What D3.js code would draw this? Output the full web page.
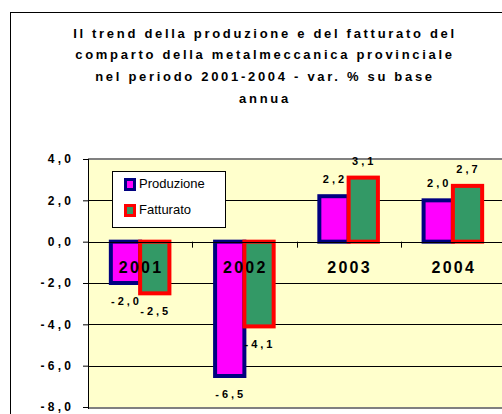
<!DOCTYPE html>
<html>
<head>
<meta charset="utf-8">
<script src="https://cdn.jsdelivr.net/npm/d3@7"></script>
<style>
  body { margin: 0; background: #fff; }
  svg text { font-family: Arial, "Liberation Sans", sans-serif; }
</style>
</head>
<body>
<div id="graph"></div>
<script>
// data
var years = ["2001", "2002", "2003", "2004"];
var series = ["Produzione", "Fatturato"];
var produzione = [-2.0, -6.5, 2.2, 2.0];
var fatturato = [-2.5, -4.1, 3.1, 2.7];
var yTicks = [4, 2, 0, -2, -4, -6, -8];
var titleLines = [
  "Il trend della produzione e del fatturato del",
  "comparto della metalmeccanica provinciale",
  "nel periodo 2001-2004 - var. % su base",
  "annua"
];

var fills = { "Produzione": "#ff00ff", "Fatturato": "#339966" };
var strokes = { "Produzione": "#000080", "Fatturato": "#ff0000" };

var width = 502, height = 414;
var plot = { left: 88, top: 159, right: 505, bottom: 407 };

// italian style number: 2,0 with a plain hyphen
function fmt(v) {
  return d3.format(".1f")(v).replace(".", ",").replace("\u2212", "-");
}

var svg = d3.select("#graph")
  .append("svg")
    .attr("width", width)
    .attr("height", height);

// outer chart frame
svg.append("rect")
  .attr("x", 10.5).attr("y", 12.5)
  .attr("width", 520).attr("height", 420)
  .style("fill", "#fff")
  .style("stroke", "#000")
  .style("stroke-width", 1);

// title
var title = svg.append("text")
  .attr("text-anchor", "middle")
  .style("font-size", "13px")
  .style("font-weight", "bold")
  .style("letter-spacing", "2.7px");
titleLines.forEach(function(t, i) {
  title.append("tspan")
    .attr("x", 265)
    .attr("y", 37.5 + i * 21.7)
    .text(t);
});

// scales
var x0 = d3.scaleBand()
  .domain(years)
  .range([plot.left, plot.right])
  .paddingInner(0).paddingOuter(0);

var x1 = d3.scaleBand()
  .domain(series)
  .range([0, x0.bandwidth()])
  .paddingInner(0).paddingOuter(0.78);

var y = d3.scaleLinear()
  .domain([-8, 4])
  .range([plot.bottom, plot.top]);

// plot area
svg.append("rect")
  .attr("x", plot.left).attr("y", plot.top)
  .attr("width", plot.right - plot.left).attr("height", plot.bottom - plot.top)
  .style("fill", "#ffffcc");

svg.append("line")
  .attr("x1", plot.left).attr("x2", plot.right)
  .attr("y1", plot.top).attr("y2", plot.top)
  .style("stroke", "#808080").style("stroke-width", 2);
svg.append("line")
  .attr("x1", plot.left).attr("x2", plot.right)
  .attr("y1", plot.bottom + 1).attr("y2", plot.bottom + 1)
  .style("stroke", "#808080").style("stroke-width", 2);

// gridlines
svg.append("g")
  .selectAll("line")
  .data(yTicks.filter(function(d) { return d != 4 && d != -8 && d != 0; }))
  .enter()
  .append("line")
    .attr("x1", plot.left).attr("x2", plot.right)
    .attr("y1", function(d) { return Math.round(y(d)) + 0.5; })
    .attr("y2", function(d) { return Math.round(y(d)) + 0.5; })
    .style("stroke", "#000").style("stroke-width", 1);

// y axis
var yAxis = svg.append("g")
  .attr("transform", "translate(" + plot.left + ",0)")
  .call(d3.axisLeft(y)
    .tickValues(yTicks)
    .tickSize(5)
    .tickPadding(12)
    .tickFormat(fmt));
yAxis.select(".domain").remove();
yAxis.selectAll(".tick line").style("stroke", "#000");
yAxis.selectAll("text")
  .style("font-size", "12px")
  .style("font-weight", "bold")
  .style("letter-spacing", "3.3px")
  .style("fill", "#000")
  .attr("dx", "3.3px");
svg.append("line")
  .attr("x1", plot.left + 0.5).attr("x2", plot.left + 0.5)
  .attr("y1", plot.top).attr("y2", plot.bottom + 2)
  .style("stroke", "#000").style("stroke-width", 1);

// bars
var rows = years.map(function(yr, i) {
  return { year: yr, values: [
    { key: "Produzione", value: produzione[i] },
    { key: "Fatturato", value: fatturato[i] }
  ] };
});

var groups = svg.append("g")
  .selectAll("g")
  .data(rows)
  .enter()
  .append("g")
    .attr("transform", function(d) { return "translate(" + x0(d.year) + ",0)"; });

groups.selectAll("rect")
  .data(function(d) { return d.values; })
  .enter()
  .append("rect")
    .attr("x", function(d) { return x1(d.key); })
    .attr("width", x1.bandwidth())
    .attr("y", function(d) { return y(Math.max(0, d.value)); })
    .attr("height", function(d) { return Math.abs(y(d.value) - y(0)); })
    .style("fill", function(d) { return fills[d.key]; })
    .style("stroke", function(d) { return strokes[d.key]; })
    .style("stroke-width", 4);

// zero axis with ticks between categories
svg.append("line")
  .attr("x1", plot.left).attr("x2", plot.right)
  .attr("y1", Math.round(y(0)) + 0.5).attr("y2", Math.round(y(0)) + 0.5)
  .style("stroke", "#000").style("stroke-width", 1);
svg.append("g")
  .selectAll("line")
  .data(years.slice(1))
  .enter()
  .append("line")
    .attr("x1", function(d) { return Math.round(x0(d)) + 0.5; })
    .attr("x2", function(d) { return Math.round(x0(d)) + 0.5; })
    .attr("y1", y(0)).attr("y2", y(0) + 6)
    .style("stroke", "#000");

// value labels
groups.selectAll(".val")
  .data(function(d) { return d.values; })
  .enter()
  .append("text")
    .attr("class", "val")
    .attr("x", function(d) { return x1(d.key) + x1.bandwidth() / 2 + 1; })
    .attr("y", function(d) { return d.value >= 0 ? y(d.value) - 13 : y(d.value) + 22; })
    .attr("text-anchor", "middle")
    .style("font-size", "11px")
    .style("font-weight", "bold")
    .style("letter-spacing", "3px")
    .text(function(d) { return fmt(d.value); });

// category labels
groups.append("text")
  .attr("x", x0.bandwidth() / 2 + 1)
  .attr("y", 273)
  .attr("text-anchor", "middle")
  .style("font-size", "16px")
  .style("font-weight", "bold")
  .style("letter-spacing", "2.3px")
  .text(function(d) { return d.year; });

// legend
var legend = svg.append("g");
legend.append("rect")
  .attr("x", 112.5).attr("y", 171.5)
  .attr("width", 113).attr("height", 56)
  .style("fill", "#fff")
  .style("stroke", "#000");
series.forEach(function(s, i) {
  legend.append("rect")
    .attr("x", 125.5).attr("y", 179.5 + i * 26)
    .attr("width", 9).attr("height", 10)
    .style("fill", fills[s])
    .style("stroke", strokes[s])
    .style("stroke-width", 3);
  legend.append("text")
    .attr("x", 139).attr("y", 188 + i * 26)
    .style("font-size", "13px")
    .text(s);
});
</script>
</body>
</html>
